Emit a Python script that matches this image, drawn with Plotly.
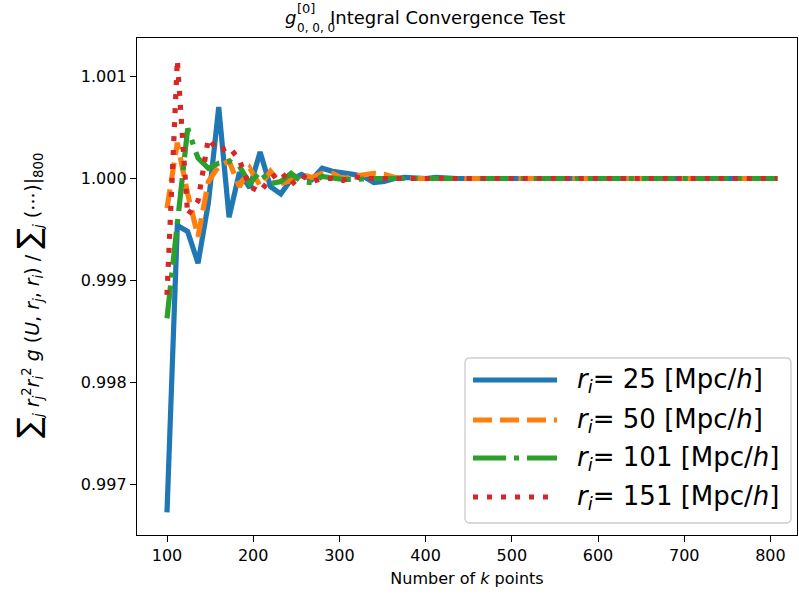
import plotly.graph_objects as go

# ---------------- data ----------------
k_points = list(range(100, 809, 12))  # 60 k-grid sizes: 100, 112, ..., 808

ratio_r25 = [0.99673, 0.99954, 0.99948, 0.99917, 0.99976, 1.00070, 0.99962, 1.00006,
             0.99991, 1.00026, 0.99992, 0.99985, 0.99999, 1.00004, 0.99999, 1.00010,
             1.00007, 1.00006, 1.00004, 1.00002, 0.99996, 0.99997, 1.00000, 1.00001,
             1.00000, 1.00000, 1.00001, 1.00000, 1.00000, 1.00000, 1.00000, 1.00000,
             1.00000, 1.00000, 1.00000, 1.00000, 1.00000, 1.00000, 1.00000, 1.00000,
             1.00000, 1.00000, 1.00000, 1.00000, 1.00000, 1.00000, 1.00000, 1.00000,
             1.00000, 1.00000, 1.00000, 1.00000, 1.00000, 1.00000, 1.00000, 1.00000,
             1.00000, 1.00000, 1.00000, 1.00000]
ratio_r50 = [0.99971, 1.00035, 0.99985, 0.99943, 0.99997, 1.00012, 1.00017, 0.99992,
             1.00010, 0.99993, 1.00007, 0.99995, 0.99998, 1.00004, 1.00001, 1.00005,
             1.00005, 1.00000, 1.00002, 1.00004, 1.00005, 1.00004, 1.00001, 1.00000,
             1.00000, 1.00000, 1.00000, 1.00000, 1.00000, 1.00000, 1.00000, 1.00000,
             1.00000, 1.00000, 1.00000, 1.00000, 1.00000, 1.00000, 1.00000, 1.00000,
             1.00000, 1.00000, 1.00000, 1.00000, 1.00000, 1.00000, 1.00000, 1.00000,
             1.00000, 1.00000, 1.00000, 1.00000, 1.00000, 1.00000, 1.00000, 1.00000,
             1.00000, 1.00000, 1.00000, 1.00000]
ratio_r101 = [0.99863, 0.99955, 1.00049, 1.00020, 1.00010, 1.00015, 1.00017, 1.00012,
              0.99995, 1.00007, 0.99995, 0.99997, 1.00005, 0.99997, 0.99996, 1.00002,
              1.00000, 0.99999, 0.99999, 1.00000, 1.00000, 1.00000, 1.00000, 1.00000,
              1.00000, 1.00000, 1.00000, 1.00000, 1.00000, 1.00000, 1.00000, 1.00000,
              1.00000, 1.00000, 1.00000, 1.00000, 1.00000, 1.00000, 1.00000, 1.00000,
              1.00000, 1.00000, 1.00000, 1.00000, 1.00000, 1.00000, 1.00000, 1.00000,
              1.00000, 1.00000, 1.00000, 1.00000, 1.00000, 1.00000, 1.00000, 1.00000,
              1.00000, 1.00000, 1.00000, 1.00000]
ratio_r151 = [0.99886, 1.00116, 0.99964, 0.99978, 1.00039, 1.00027, 1.00031, 1.00018,
              0.99992, 0.99987, 1.00000, 1.00007, 0.99994, 1.00003, 0.99997, 1.00000,
              1.00000, 0.99998, 1.00002, 1.00000, 1.00000, 1.00000, 1.00000, 1.00000,
              1.00000, 1.00000, 1.00000, 1.00000, 1.00000, 1.00000, 1.00000, 1.00000,
              1.00000, 1.00000, 1.00000, 1.00000, 1.00000, 1.00000, 1.00000, 1.00000,
              1.00000, 1.00000, 1.00000, 1.00000, 1.00000, 1.00000, 1.00000, 1.00000,
              1.00000, 1.00000, 1.00000, 1.00000, 1.00000, 1.00000, 1.00000, 1.00000,
              1.00000, 1.00000, 1.00000, 1.00000]

series_labels = ["25", "50", "101", "151"]
series_values = [ratio_r25, ratio_r50, ratio_r101, ratio_r151]
x_tick_values = [100, 200, 300, 400, 500, 600, 700, 800]
y_tick_values = [0.997, 0.998, 0.999, 1.000, 1.001]

# ---------------- style ----------------
colors = ["#1f77b4", "#ff7f0e", "#2ca02c", "#d62728"]
dashes = ["solid", "19px,8px", "33px,8px,5px,8px", "5px,9px"]
LW = 5.2
FONT = "DejaVu Sans"

W, H = 799, 596
L, R, T, B = 137, 2, 38, 61
PW, PH = W - L - R, H - T - B


def px_x(px):
    return (px - L) / PW


def px_y(py):
    return (H - B - py) / PH


fig = go.Figure()
for vals, c, d, lab in zip(series_values, colors, dashes, series_labels):
    fig.add_trace(go.Scatter(
        x=k_points, y=vals, mode="lines",
        line=dict(color=c, width=LW, dash=d),
        name=f"r_i= {lab} [Mpc/h]", showlegend=False,
    ))

axis_common = dict(showline=True, linecolor="black", linewidth=1.3, mirror=True,
                   ticks="outside", ticklen=6, tickwidth=1.3, tickcolor="black",
                   showgrid=False, zeroline=False,
                   tickfont=dict(family=FONT, size=16, color="black"))

fig.update_xaxes(range=[65.2, 830.8], tickvals=x_tick_values,
                 title=dict(text="Number of <i>k</i> points",
                            font=dict(family=FONT, size=16, color="black"),
                            standoff=8),
                 **axis_common)
fig.update_yaxes(range=[0.996508, 1.001376], tickvals=y_tick_values, tickformat=".3f",
                 **axis_common)

ylabel = ("<span style='font-size:31px'>∑</span><sub><i>j</i></sub> "
          "<i>r</i><sub><i>j</i></sub><sup>2</sup><i>r</i><sub><i>i</i></sub><sup>2</sup> "
          "<i>g</i> (<i>U</i>, <i>r</i><sub><i>j</i></sub>, <i>r</i><sub><i>i</i></sub>) / "
          "<span style='font-size:31px'>∑</span><sub><i>j</i></sub> (⋯)|<sub>800</sub>")

annotations = [
    # y-axis label
    dict(text=ylabel, x=px_x(28), y=px_y(296), xref="paper", yref="paper",
         xanchor="center", yanchor="middle", textangle=-90, showarrow=False,
         font=dict(family=FONT, size=19, color="black")),
    # title (g with stacked super/subscripts)
    dict(text="<i>g</i>", x=px_x(283), y=px_y(18), xref="paper", yref="paper",
         xanchor="left", yanchor="middle", showarrow=False,
         font=dict(family=FONT, size=18, color="black")),
    dict(text="[0]", x=px_x(295), y=px_y(9), xref="paper", yref="paper",
         xanchor="left", yanchor="middle", showarrow=False,
         font=dict(family=FONT, size=13, color="black")),
    dict(text="0, 0, 0", x=px_x(295), y=px_y(28), xref="paper", yref="paper",
         xanchor="left", yanchor="middle", showarrow=False,
         font=dict(family=FONT, size=12, color="black")),
    dict(text="Integral Convergence Test", x=px_x(328), y=px_y(17), xref="paper", yref="paper",
         xanchor="left", yanchor="middle", showarrow=False,
         font=dict(family=FONT, size=18, color="black")),
]

# custom legend (long line samples like the reference)
bx0, bx1, by0, by1 = 465, 791, 358, 523
rx, ry = 5 / PW, 5 / PH
X0, X1, Y0, Y1 = px_x(bx0), px_x(bx1), px_y(by1), px_y(by0)
path = (f"M {X0+rx},{Y0} L {X1-rx},{Y0} Q {X1},{Y0} {X1},{Y0+ry} L {X1},{Y1-ry} "
        f"Q {X1},{Y1} {X1-rx},{Y1} L {X0+rx},{Y1} Q {X0},{Y1} {X0},{Y1-ry} "
        f"L {X0},{Y0+ry} Q {X0},{Y0} {X0+rx},{Y0} Z")
shapes = [dict(type="path", path=path, xref="paper", yref="paper",
               fillcolor="rgba(255,255,255,0.8)", line=dict(color="#cccccc", width=1.3),
               layer="above")]
row_y = [380, 420, 458, 497]
for ry_px, c, d, lab in zip(row_y, colors, dashes, series_labels):
    shapes.append(dict(type="line", xref="paper", yref="paper",
                       x0=px_x(473), x1=px_x(557), y0=px_y(ry_px), y1=px_y(ry_px),
                       line=dict(color=c, width=LW, dash=d), layer="above"))
    annotations.append(dict(
        text=f"<i>r</i><sub><i>i</i></sub>= {lab} [Mpc/<i>h</i>]",
        x=px_x(575), y=px_y(ry_px), xref="paper", yref="paper",
        xanchor="left", yanchor="middle", showarrow=False,
        font=dict(family=FONT, size=26, color="black")))

fig.update_layout(
    width=W, height=H,
    margin=dict(l=L, r=R, t=T, b=B, autoexpand=False),
    paper_bgcolor="white", plot_bgcolor="white",
    font=dict(family=FONT, color="black"),
    showlegend=False,
    shapes=shapes, annotations=annotations,
)

fig.write_html("out.html")
